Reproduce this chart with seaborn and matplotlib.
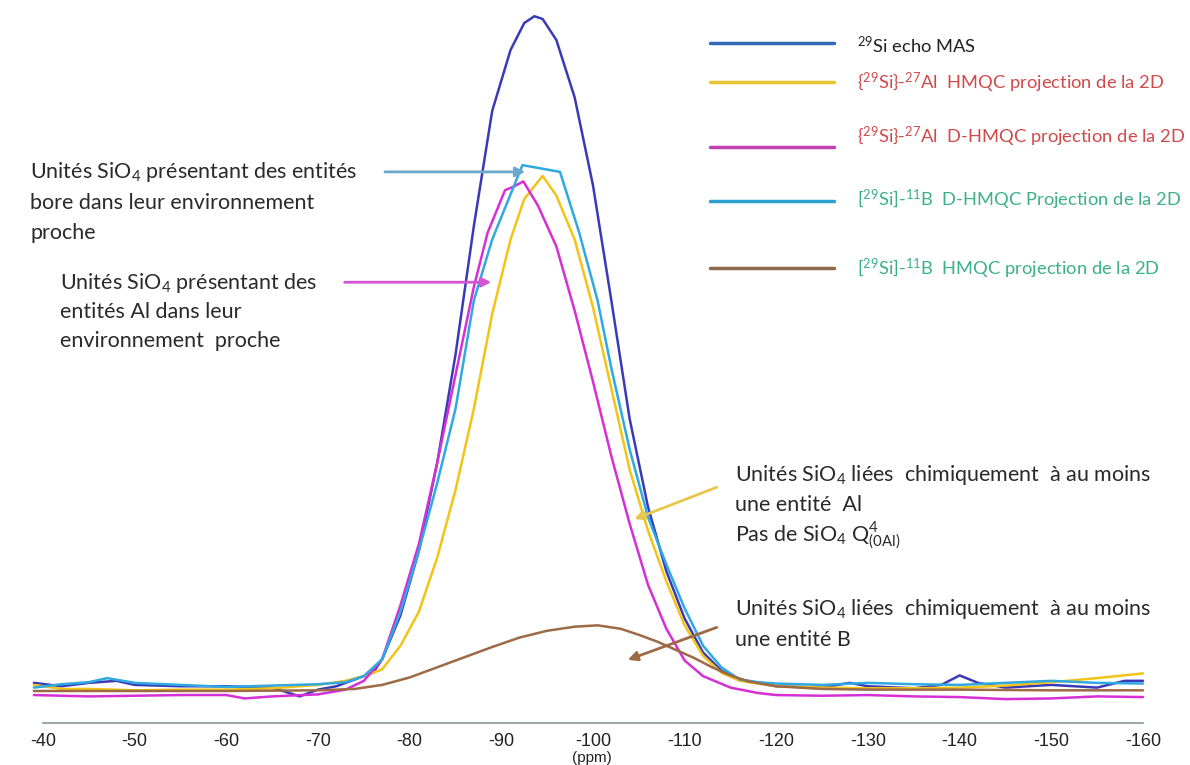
import matplotlib
matplotlib.use("Agg")
import numpy as np
import pandas as pd
import matplotlib.pyplot as plt
import seaborn as sns
from matplotlib.lines import Line2D

# ─────────────────────────────────────────────────────────────
# DATA  (arbitrary intensity units)
# ─────────────────────────────────────────────────────────────
echo_ppm = [-39, -42, -45, -48, -50, -55, -60, -65, -68, -70, -72, -74, -76, -77, -79, -81,
            -83, -85, -87, -89, -91, -92.5, -93.6, -94.5, -96, -98, -100, -102, -104, -106,
            -108, -110, -112, -114, -116, -118, -120, -125, -128, -130, -135, -138, -140,
            -142, -145, -150, -155, -158, -160]
echo_int = [1.5, 1.0, 1.5, 1.8, 1.2, 1.0, 1.0, 0.8, -0.5, 0.5, 1.0, 2.0, 3.0, 5.0, 11.5, 21,
            34, 50, 69, 86, 95, 99, 100, 99.6, 96.5, 88, 75, 58, 40.5, 27.5,
            18, 11, 6.0, 3.3, 2.0, 1.5, 1.0, 0.8, 1.5, 1.0, 0.7, 1.2, 2.6,
            1.5, 0.8, 1.2, 0.8, 1.8, 1.8]

al_hmqc_ppm = [-39, -42, -45, -50, -55, -60, -65, -70, -73, -75, -77, -79, -81, -83, -85, -87,
               -89, -91, -92.5, -94.5, -96, -98, -100, -102, -104, -106, -108, -110, -112,
               -114, -116, -120, -125, -130, -135, -140, -145, -150, -155, -160]
al_hmqc_int = [1.2, 0.6, 0.6, 0.4, 0.5, 0.5, 0.7, 1.2, 1.8, 2.5, 3.5, 7.0, 12, 20, 30, 42,
               56, 67, 73, 76.4, 73.5, 67, 57, 45, 33, 24, 16.5, 10, 5.5,
               3.0, 1.8, 1.0, 0.8, 0.7, 0.7, 0.8, 1.1, 1.6, 2.2, 2.9]

al_dhmqc_ppm = [-39, -45, -50, -55, -60, -62, -65, -70, -73, -75, -77, -79, -81, -83, -85, -87,
                -88.5, -90.4, -91.3, -92.4, -94, -96, -98, -100, -102, -104, -106, -108, -110,
                -112, -115, -118, -120, -125, -130, -135, -140, -145, -150, -155, -160]
al_dhmqc_int = [-0.3, -0.5, -0.4, -0.3, -0.3, -0.8, -0.5, -0.2, 0.5, 1.8, 5.0, 13, 22, 34, 47, 60,
                68, 74.3, 74.8, 75.6, 72, 66, 56.5, 46, 35, 25, 16, 9.5, 4.8,
                2.5, 0.8, 0.0, -0.3, -0.4, -0.3, -0.5, -0.6, -0.9, -0.8, -0.5, -0.6]

b_dhmqc_ppm = [-39, -42, -45, -47, -50, -55, -60, -65, -70, -73, -75, -77, -79, -81, -83, -85,
               -87, -89, -90.8, -92.3, -96.4, -98.5, -100.5, -102, -104, -106, -108, -110,
               -112, -114, -116, -118, -120, -125, -130, -135, -140, -145, -150, -155, -160]
b_dhmqc_int = [0.8, 1.3, 1.6, 2.2, 1.5, 1.2, 0.9, 1.1, 1.3, 1.6, 2.5, 5.0, 12, 21, 31, 42,
               58, 67, 73, 78, 77, 68, 58, 48, 36, 26, 19, 12.5,
               7.0, 3.8, 2.0, 1.6, 1.4, 1.2, 1.5, 1.3, 1.2, 1.5, 1.8, 1.5, 1.4]

b_hmqc_ppm = [-39, -50, -60, -70, -74, -77, -80, -83, -86, -89, -92, -95, -98, -100.5, -103,
              -105, -107, -109, -111, -113, -115, -117, -120, -125, -130, -140, -150, -160]
b_hmqc_int = [0.3, 0.3, 0.3, 0.4, 0.6, 1.2, 2.3, 3.8, 5.3, 6.8, 8.2, 9.2, 9.8, 10.0, 9.5,
              8.6, 7.6, 6.4, 5.2, 3.8, 2.6, 1.7, 1.0, 0.6, 0.5, 0.5, 0.4, 0.4]

x_ticks = [-40, -50, -60, -70, -80, -90, -100, -110, -120, -130, -140, -150, -160]

series = [
    ("echo", echo_ppm, echo_int, "#3a3ab8"),
    ("al_hmqc", al_hmqc_ppm, al_hmqc_int, "#f2c417"),
    ("al_dhmqc", al_dhmqc_ppm, al_dhmqc_int, "#d52fd5"),
    ("b_dhmqc", b_dhmqc_ppm, b_dhmqc_int, "#2fa9e0"),
    ("b_hmqc", b_hmqc_ppm, b_hmqc_int, "#9c6a45"),
]

legend_labels = [
    (r"$^{29}$Si echo MAS", "#222222", "#3468b8"),
    (r"{$^{29}$Si}-$^{27}$Al  HMQC projection de la 2D", "#d04a4a", "#e8c530"),
    (r"{$^{29}$Si}-$^{27}$Al  D-HMQC projection de la 2D", "#d04a4a", "#c040b0"),
    (r"[$^{29}$Si]-$^{11}$B  D-HMQC Projection de la 2D", "#3cb08a", "#2a9fd0"),
    (r"[$^{29}$Si]-$^{11}$B  HMQC projection de la 2D", "#3cb08a", "#8c6a4a"),
]

# ─────────────────────────────────────────────────────────────
# STYLE
# ─────────────────────────────────────────────────────────────
sns.set_theme(style="white")
plt.rcParams["font.family"] = ["Lato", "DejaVu Sans"]
plt.rcParams["mathtext.fontset"] = "custom"
plt.rcParams["mathtext.rm"] = "Lato"
plt.rcParams["mathtext.it"] = "Lato:italic"
plt.rcParams["mathtext.bf"] = "Lato:bold"

W, H = 1190, 765
fig = plt.figure(figsize=(W / 100, H / 100), dpi=100)

# axes placed so that -40 ppm sits at x=43 px and -160 ppm at x=1143 px
ax = fig.add_axes([24.7 / W, 42 / H, (1161.3 - 24.7) / W, 723 / H])

for name, xs, ys, col in series:
    df = pd.DataFrame({"ppm": xs, "intensity": ys})
    sns.lineplot(data=df, x="ppm", y="intensity", color=col, lw=1.8, ax=ax,
                 estimator=None, sort=True)

ax.set_xlim(-38, -162)
ax.set_ylim(-4.43, 102.4)
ax.set_xlabel("")
ax.set_ylabel("")
ax.set_yticks([])
for s in ["left", "right", "top"]:
    ax.spines[s].set_visible(False)
axis_col = "#8a9898"
ax.spines["bottom"].set_color(axis_col)
ax.spines["bottom"].set_linewidth(1.2)
ax.spines["bottom"].set_bounds(-40, -160)
ax.set_xticks(x_ticks)
ax.set_xticklabels([str(t) for t in x_ticks], fontfamily=["Liberation Sans"],
                   fontsize=13, color="#222222")
ax.tick_params(axis="x", direction="inout", length=10, width=1, color=axis_col, pad=2)
ax.patch.set_alpha(0)

def fx(x):
    return x / W

def fy(y):
    return 1 - y / H

fig.text(fx(592), fy(758), "(ppm)", ha="center", va="center", fontsize=11,
         family=["Liberation Sans"], color="#222222")

# ─────────────────────────────────────────────────────────────
# LEGEND (hand placed, as in the original slide)
# ─────────────────────────────────────────────────────────────
line_y = [43, 82, 147, 201, 268]
text_y = [45, 83, 137, 200, 269]
for (lab, tcol, lcol), ly, ty in zip(legend_labels, line_y, text_y):
    fig.add_artist(Line2D([fx(710), fx(834)], [fy(ly), fy(ly)], color=lcol, lw=2.5))
    fig.text(fx(857), fy(ty), lab, color=tcol, fontsize=13.2, ha="left", va="center")

# ─────────────────────────────────────────────────────────────
# ANNOTATIONS
# ─────────────────────────────────────────────────────────────
note_fs = 15.5
notes = [
    (30, [172, 203, 233], [r"Unités SiO$_4$ présentant des entités",
                           "bore dans leur environnement", "proche"]),
    (60, [283, 312, 341], [r"Unités SiO$_4$ présentant des",
                           "entités Al dans leur", "environnement  proche"]),
    (735, [475, 505, 535], [r"Unités SiO$_4$ liées  chimiquement  à au moins",
                            "une entité  Al", r"Pas de SiO$_4$ Q$^4_{\mathrm{(0Al)}}$"]),
    (735, [609, 640], [r"Unités SiO$_4$ liées  chimiquement  à au moins",
                       "une entité B"]),
]
for x0, ys, lines in notes:
    for yy, txt in zip(ys, lines):
        fig.text(fx(x0), fy(yy + 6), txt, fontsize=note_fs, color="#2a2a2a",
                 ha="left", va="baseline")

arrows = [
    ((-77.3, 77.0), (-92.6, 77.0), "#6aa8cc"),
    ((-72.9, 60.7), (-88.9, 60.7), "#d455d4"),
    ((-113.5, 30.4), (-104.5, 25.7), "#e8c84a"),
    ((-113.5, 9.7), (-103.8, 4.9), "#9c6a45"),
]
for tail, head, col in arrows:
    ax.annotate("", xy=head, xytext=tail,
                arrowprops=dict(arrowstyle="-|>", color=col, lw=2,
                                mutation_scale=14, shrinkA=0, shrinkB=0))

fig.savefig("out.png", dpi=100)
